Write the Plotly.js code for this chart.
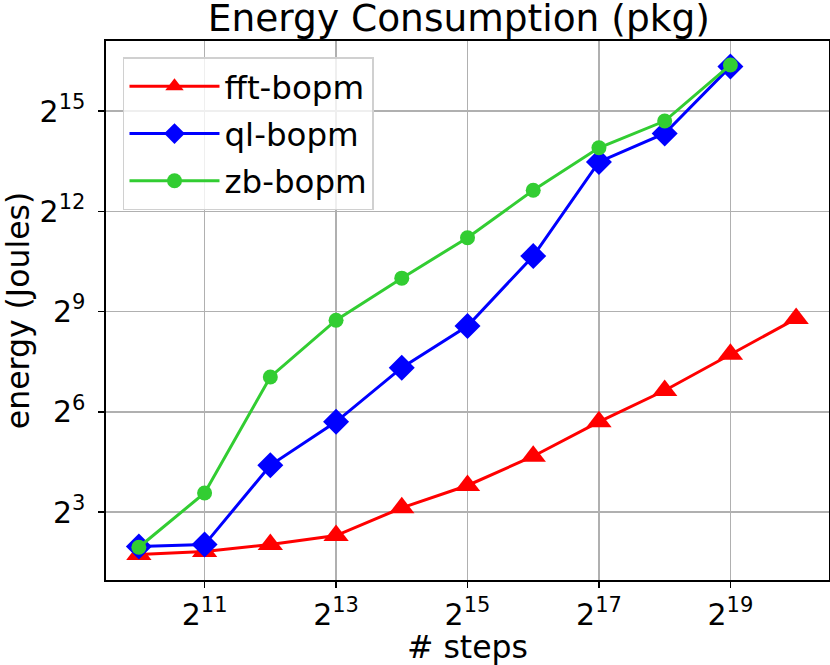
<!DOCTYPE html>
<html>
<head>
<meta charset="utf-8">
<script src="https://cdn.plot.ly/plotly-3.0.1.min.js"></script>
<style>
  html, body { margin: 0; padding: 0; background: #fff; }
  #chart { width: 830px; height: 665px; }
</style>
</head>
<body>
<div id="chart"></div>
<script>
// number of steps (x), energy in Joules (y)
const steps = [1024, 2048, 4096, 8192, 16384, 32768, 65536, 131072, 262144, 524288, 1048576];
const fftEnergy = [3.32, 3.53, 4.08, 4.92, 8.75, 13.9, 25.5, 52.0, 99.7, 211, 443];
const qlEnergy = [3.92, 4.08, 21.1, 52.0, 160, 380, 1618, 11420, 20590, 82350];
const zbEnergy = [3.86, 11.9, 132, 428, 1024, 2369, 6338, 15290, 26620, 85250];

const xTickPowers = [11, 13, 15, 17, 19];
const yTickPowers = [3, 6, 9, 12, 15];

const font = 'DejaVu Sans, Liberation Sans, sans-serif';
const L2 = Math.log10(2);

const traces = [
  {
    name: 'fft-bopm', x: steps, y: fftEnergy, legendgroup: 'a',
    mode: 'lines+markers', line: { color: '#ff0000', width: 3 },
    marker: { symbol: 'triangle-up', size: 22, color: '#ff0000' }
  },
  {
    name: 'ql-bopm', x: steps.slice(0, qlEnergy.length), y: qlEnergy, legendgroup: 'b',
    mode: 'lines+markers', line: { color: '#0000ff', width: 3 },
    marker: { symbol: 'diamond', size: 20, color: '#0000ff' }
  },
  {
    name: 'zb-bopm', x: steps.slice(0, zbEnergy.length), y: zbEnergy, legendgroup: 'c',
    mode: 'lines+markers', line: { color: '#32cd32', width: 3 },
    marker: { symbol: 'circle', size: 15, color: '#32cd32' }
  }
];

const axisCommon = {
  type: 'log',
  showline: true, mirror: true, linecolor: '#000', linewidth: 1.6,
  ticks: 'outside', ticklen: 6, tickwidth: 1.6, tickcolor: '#000',
  showgrid: true, gridcolor: '#b0b0b0', gridwidth: 1.3,
  zeroline: false,
  tickfont: { family: font, size: 30, color: '#000' }
};

const layout = {
  width: 830, height: 665,
  margin: { l: 106, r: 1, t: 41, b: 85 },
  paper_bgcolor: '#fff', plot_bgcolor: '#fff',
  font: { family: font, color: '#000' },
  title: {
    text: 'Energy Consumption (pkg)',
    font: { family: font, size: 37.5, color: '#000' },
    x: 0.488, xref: 'paper', y: 0.973, yref: 'container', yanchor: 'middle'
  },
  xaxis: Object.assign({}, axisCommon, {
    range: [9.5 * L2, 20.5 * L2],
    tickvals: xTickPowers.map(p => Math.pow(2, p)),
    ticktext: xTickPowers.map(p => '2<sup>' + p + '</sup>'),
    ticklabelstandoff: 1,
    title: { text: '# steps', font: { family: font, size: 31.5, color: '#000' }, standoff: 0 }
  }),
  yaxis: Object.assign({}, axisCommon, {
    range: [0.969 * L2, 17.096 * L2],
    tickvals: yTickPowers.map(p => Math.pow(2, p)),
    ticktext: yTickPowers.map(p => '2<sup>' + p + '</sup>'),
    ticklabelstandoff: 7,
    title: { text: 'energy (Joules)', font: { family: font, size: 31.5, color: '#000' }, standoff: 8 }
  }),
  showlegend: true,
  legend: {
    x: 0.0235, y: 0.97, xanchor: 'left', yanchor: 'top',
    bgcolor: 'rgba(255,255,255,0.8)', bordercolor: '#d0d0d0', borderwidth: 1.5,
    font: { family: font, size: 32.5, color: '#000' },
    tracegroupgap: 2, itemwidth: 90
  }
};

Plotly.newPlot('chart', traces, layout, { displayModeBar: false, staticPlot: true });
</script>
</body>
</html>
